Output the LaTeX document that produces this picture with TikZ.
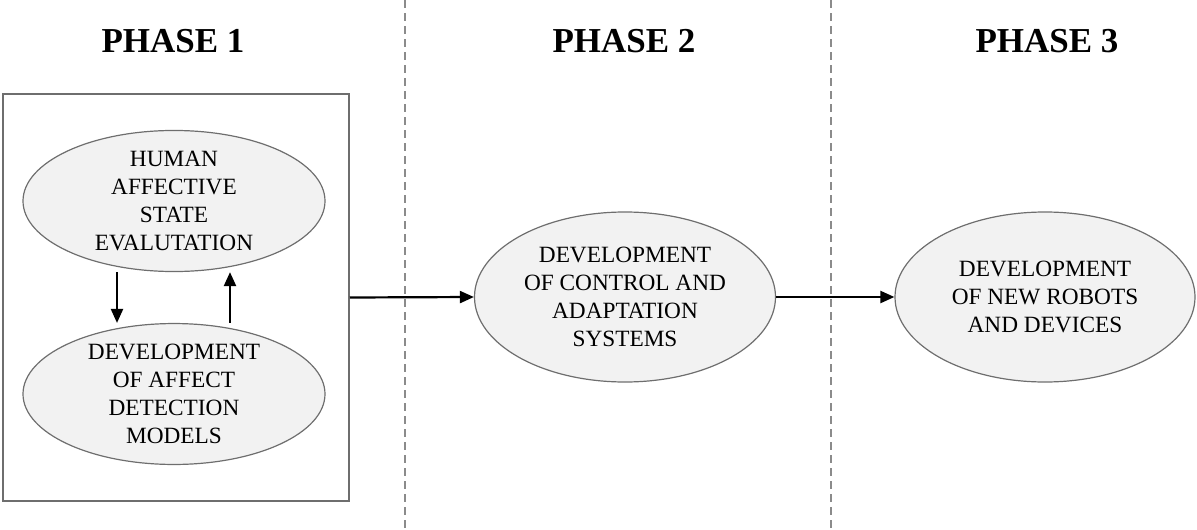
\documentclass[tikz,border=0pt]{standalone}
\usepackage{fontspec}
\setmainfont{Liberation Serif}
\usepackage{tikz}
\usetikzlibrary{calc, positioning, arrows.meta, shapes.geometric}
\definecolor{fillgray}{RGB}{242,242,242}
\definecolor{linegray}{RGB}{110,110,110}
\tikzstyle{blob}=[ellipse, draw=linegray, fill=fillgray, line width=1.2pt, inner sep=0pt, align=center, font=\fontsize{23.3}{28}\selectfont]
\tikzstyle{phase}=[font=\fontsize{35}{40}\selectfont\bfseries]
\tikzstyle{divider}=[draw=linegray!80, line width=1.2pt, dash pattern=on 8pt off 5pt]
\tikzstyle{flow}=[line width=2.2pt]
\tikzset{>={Triangle[length=14pt, width=12pt]}}

\begin{document}
\begin{tikzpicture}[x=1pt, y=-1pt]
\useasboundingbox (0,0) rectangle (1197,530);
% the headings
\node[phase] (P1) at (173, 41) {PHASE 1};
\node[phase] (P2) at (624, 41) {PHASE 2};
\node[phase] (P3) at (1047, 41) {PHASE 3};
% the dividers
\coordinate (D1a) at (405, 0);
\coordinate (D1b) at (405, 530);
\coordinate (D2a) at (831, 0);
\coordinate (D2b) at (831, 530);
\draw[divider] (D1a) -- (D1b);
\draw[divider] (D2a) -- (D2b);
% the phase 1 box
\node[draw=linegray, line width=1.5pt, minimum width=346pt, minimum height=407pt, inner sep=0pt] (Box) at (176, 297.5) {};
% the ellipses
\node[blob, minimum width=302pt, minimum height=138pt] (Eval) at (174, 201) {HUMAN\\AFFECTIVE\\STATE\\EVALUTATION};
\node[blob, minimum width=302pt, minimum height=138pt] (Detect) at (174, 394) {DEVELOPMENT\\OF AFFECT\\DETECTION\\MODELS};
\node[blob, minimum width=301pt, minimum height=170pt] (Control) at (625, 297) {DEVELOPMENT\\OF CONTROL AND\\ADAPTATION\\SYSTEMS};
\node[blob, minimum width=300pt, minimum height=170pt] (Robots) at (1045, 297) {DEVELOPMENT\\OF NEW ROBOTS\\AND DEVICES};
% the arrows
\draw[->, flow] ($(Eval.south)+(-57,0)$) -- ($(Detect.north)+(-57,0)$);
\draw[->, flow] ($(Detect.north)+(56,0)$) -- ($(Eval.south)+(56,0)$);
\draw[->, flow] (Box.east) -- (Control.west);
\draw[->, flow] (Control.east) -- (Robots.west);
\end{tikzpicture}
\end{document}
